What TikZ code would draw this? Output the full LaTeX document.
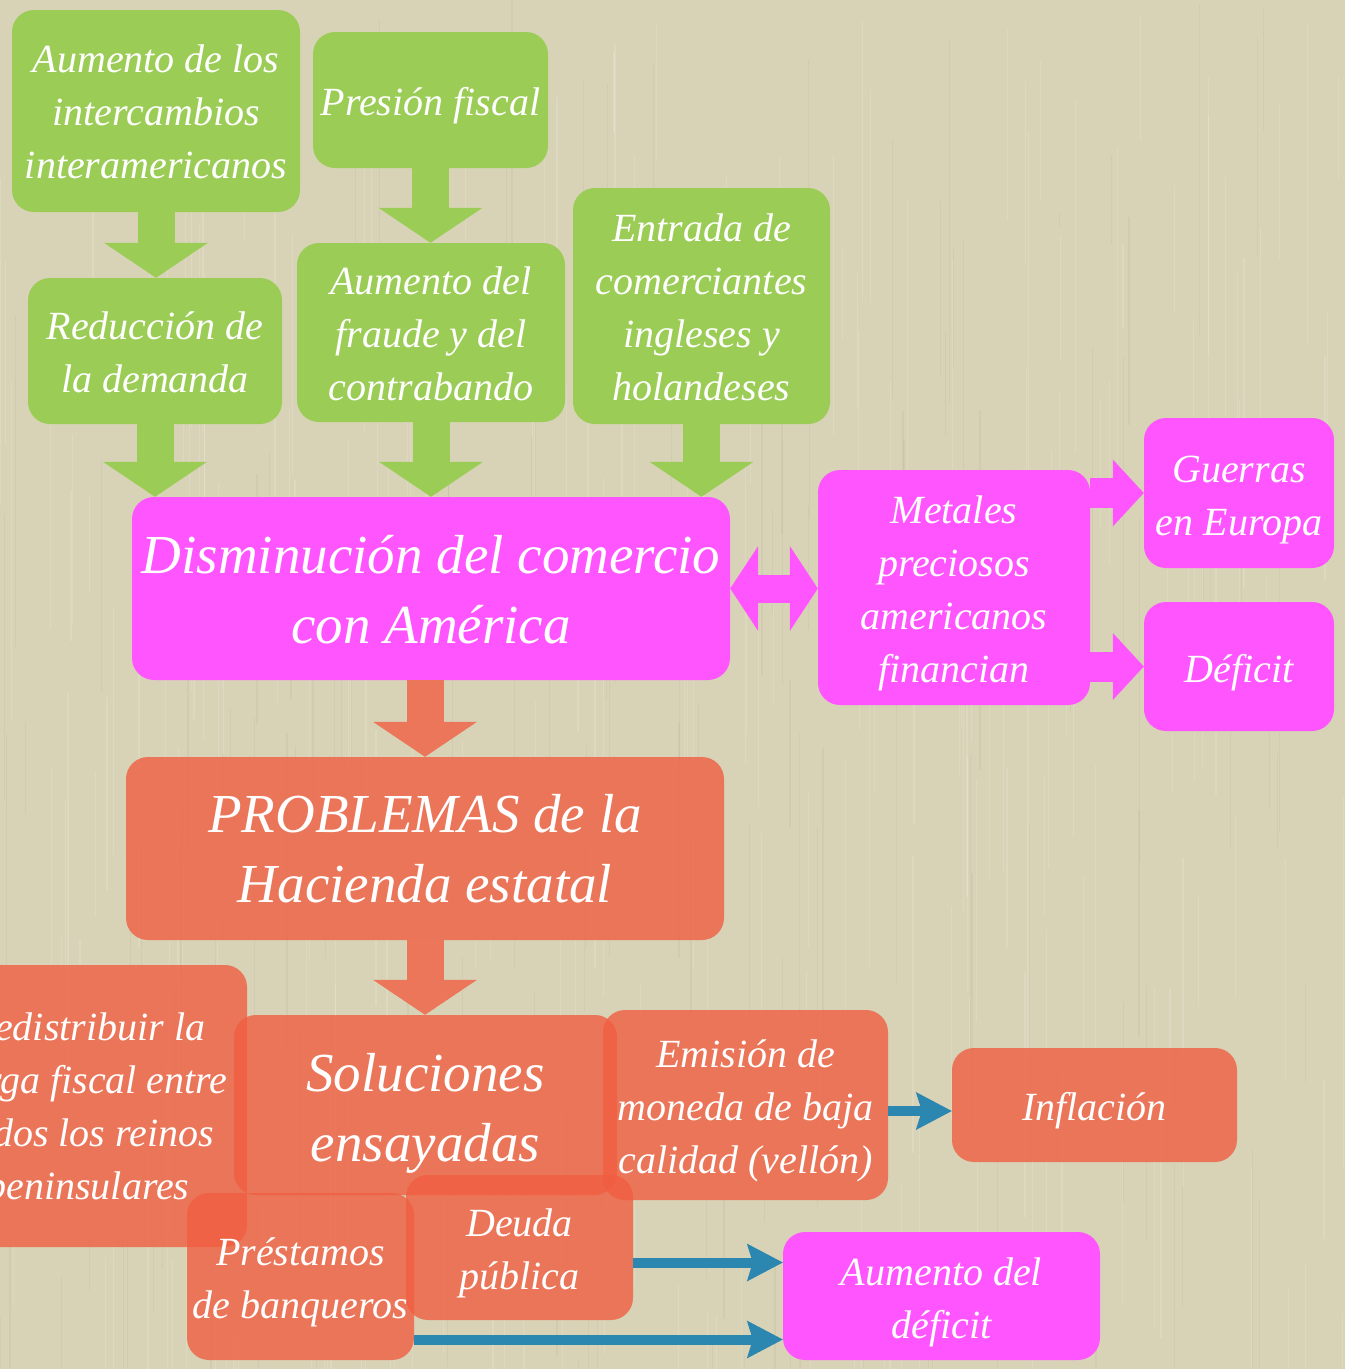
\documentclass[tikz,border=0pt]{standalone}
\usepackage{fontspec}
\setmainfont{Liberation Serif}
\usetikzlibrary{arrows.meta,calc}
\definecolor{bgc}{RGB}{216,211,183}
\definecolor{grn}{RGB}{155,204,85}
\definecolor{mag}{RGB}{255,85,255}
\definecolor{org}{RGB}{240,94,65}
\definecolor{orgs}{RGB}{236,118,90}
\definecolor{blu}{RGB}{43,135,176}
\newcommand\tx[2][5pt]{\raisebox{-#1}[\height][\depth]{\begin{tabular}{@{}c@{}}#2\end{tabular}}}
\begin{document}
\begin{tikzpicture}[x=1pt,y=-1pt,
  box/.style={rounded corners=22pt, inner sep=0pt, text=white,
    font=\fontsize{40}{53}\selectfont\itshape},
  bigtext/.style={font=\fontsize{55}{70}\selectfont\itshape},
  gbox/.style={box, fill=grn},
  mbox/.style={box, fill=mag},
  obox/.style={box, fill=org, fill opacity=0.8, text opacity=1},
  garrow/.style={draw=grn, line width=37pt, -{Triangle[width=104pt,length=35pt,line width=0pt]}},
  oarrow/.style={draw=orgs, line width=37pt, -{Triangle[width=104pt,length=35pt,line width=0pt]}},
  marrow/.style={draw=mag, line width=30pt, -{Triangle[width=67pt,length=31pt,line width=0pt]}},
  mdarrow/.style={draw=mag, line width=28pt, {Triangle[width=85pt,length=28pt,line width=0pt]}-{Triangle[width=85pt,length=28pt,line width=0pt]}},
  barrow/.style={draw=blu, line width=10pt, -{Stealth[width=38pt,length=36pt,inset=6pt,line width=0pt]}},
  streak/.style={line width=1.2pt}
]
\useasboundingbox (0,0) rectangle (1345,1369);
\clip (0,0) rectangle (1345,1369);
\fill[bgc] (0,0) rectangle (1345,1369);
% paper texture
\pgfmathsetseed{7}
\foreach \i in {1,...,260}{
  \pgfmathsetmacro\xa{rnd*1345}
  \pgfmathsetmacro\ya{rnd*1369}
  \pgfmathsetmacro\la{80+rnd*300}
  \draw[streak, white, opacity=0.14] (\xa,\ya) -- ++(0,\la);
}
\foreach \i in {1,...,140}{
  \pgfmathsetmacro\xa{rnd*1345}
  \pgfmathsetmacro\ya{rnd*1369}
  \pgfmathsetmacro\la{80+rnd*300}
  \draw[streak, black!60!brown, opacity=0.045] (\xa,\ya) -- ++(0,\la);
}

% green boxes
\node[gbox, minimum width=288pt, minimum height=202pt] (a1) at (156,111)
  {\tx[4pt]{Aumento de los\\intercambios\\interamericanos}};
\node[gbox, minimum width=235pt, minimum height=136pt] (pf) at (430.5,100)
  {\tx{Presión fiscal}};
\node[gbox, minimum width=254pt, minimum height=146pt] (rd) at (155,351)
  {\tx[4pt]{Reducción de\\la demanda}};
\node[gbox, minimum width=268pt, minimum height=179pt] (fr) at (431,332.5)
  {\tx[4pt]{Aumento del\\fraude y del\\contrabando}};
\node[gbox, minimum width=257pt, minimum height=236pt] (en) at (701.5,306)
  {\tx[4pt]{Entrada de\\comerciantes\\ingleses y\\holandeses}};

% magenta boxes
\node[mbox, bigtext, minimum width=598pt, minimum height=183pt] (dc) at (431,588.5)
  {\tx[6pt]{Disminución del comercio\\con América}};
\node[mbox, minimum width=272pt, minimum height=235pt] (mt) at (954,587.5)
  {\tx{Metales\\preciosos\\americanos\\financian}};
\node[mbox, minimum width=190pt, minimum height=150pt] (gu) at (1239,493)
  {\tx{Guerras\\en Europa}};
\node[mbox, minimum width=190pt, minimum height=129pt] (df) at (1239,666.5)
  {\tx{Déficit}};

% orange boxes
\node[obox, bigtext, minimum width=598pt, minimum height=183pt] (pr) at (425,848.5)
  {\tx[5pt]{PROBLEMAS de la\\Hacienda estatal}};
\node[obox, minimum width=318pt, minimum height=282pt] (rf) at (88,1106)
  {\tx[3pt]{Redistribuir la\\carga fiscal entre\\todos los reinos\\peninsulares}};
\node[obox, minimum width=227pt, minimum height=145pt] (dp) at (519.5,1247.5)
  {\tx{Deuda\\pública}};
\node[obox, minimum width=227pt, minimum height=167pt] (pb) at (300.5,1276.5)
  {\tx{Préstamos\\de banqueros}};
\node[obox, bigtext, minimum width=383pt, minimum height=180pt] (so) at (425.5,1105)
  {\tx[7pt]{Soluciones\\ensayadas}};
\node[obox, minimum width=285pt, minimum height=190pt] (em) at (745.5,1105)
  {\tx{Emisión de\\moneda de baja\\calidad (vellón)}};
\node[obox, minimum width=285pt, minimum height=114pt] (inf) at (1094.5,1105)
  {\tx{Inflación}};
\node[mbox, minimum width=317pt, minimum height=128pt] (ad) at (941.5,1296)
  {\tx{Aumento del\\déficit}};

% green block arrows
\draw[garrow] ([yshift=7pt]a1.south) -- (a1.south |- rd.north);
\draw[garrow] (pf.south) -- (pf.south |- fr.north);
\draw[garrow] (rd.south) -- (rd.south |- dc.north);
\draw[garrow] (fr.south) -- (fr.south |- dc.north);
\draw[garrow] (en.south) -- (en.south |- dc.north);

% magenta block arrows
\draw[mdarrow] (dc.east) -- (dc.east -| mt.west);
\draw[marrow] (mt.east |- gu.west) -- (gu.west);
\draw[marrow] (mt.east |- df.west) -- (df.west);

% orange block arrows
\draw[oarrow] (pr.north |- dc.south) -- (pr.north);
\draw[oarrow] (pr.south) -- (pr.south |- so.north);

% blue arrows
\draw[barrow] ([yshift=-6pt]em.east) -- ([yshift=-6pt]em.east -| inf.west);
\draw[barrow] ([yshift=-15pt]dp.east) -- ([yshift=-15pt]dp.east -| ad.west);
\draw[barrow] ([yshift=-63pt]pb.east) -- ([yshift=-63pt]pb.east -| ad.west);
\end{tikzpicture}
\end{document}
